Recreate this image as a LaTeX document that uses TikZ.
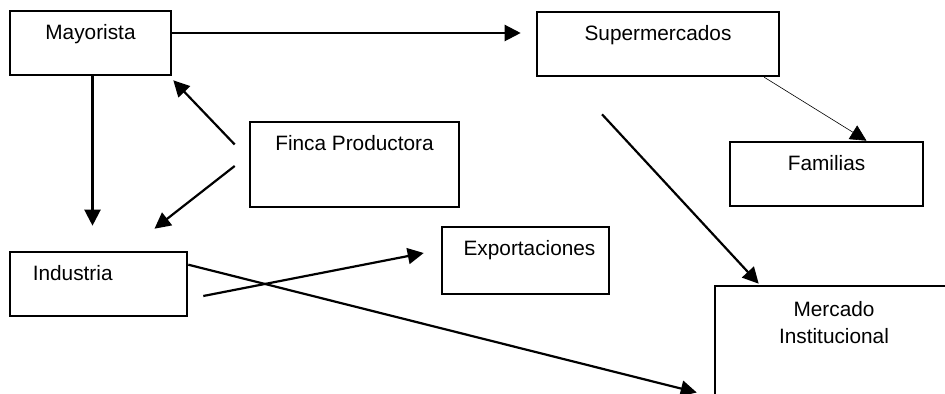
\documentclass[tikz,border=0pt]{standalone}
\usepackage{fontspec}
\setmainfont{Liberation Sans}
\usetikzlibrary{arrows.meta,calc}

\tikzset{
  caja/.style={draw, rectangle, line width=1.3pt, inner sep=0pt},
  rotulo/.style={anchor=base, yshift=-15pt, inner sep=0pt, font=\fontsize{10.4}{13.5}\selectfont},
}

\begin{document}
\begin{tikzpicture}[x=0.5pt, y=-0.5pt, line width=1.1pt, >={Triangle[length=8pt,width=8pt]}]
\useasboundingbox (0,0) rectangle (945,394);
\clip (0,0) rectangle (945,394);
% cajas
\node[caja, minimum width=80.5pt, minimum height=32pt, label={[rotulo]north:Mayorista}] (may) at (90.5,43) {};
\node[caja, minimum width=121pt, minimum height=32pt, label={[rotulo]north:Supermercados}] (sup) at (658,44) {};
\node[caja, minimum width=104.5pt, minimum height=42.5pt, label={[rotulo]north:Finca Productora}] (finca) at (354.5,164.5) {};
\node[caja, minimum width=96.5pt, minimum height=32pt, label={[rotulo]north:Familias}] (fam) at (826.5,174) {};
\node[caja, minimum width=88.5pt, minimum height=32pt, label={[rotulo, anchor=base west, xshift=11.5pt]north west:Industria}] (ind) at (98.5,284) {};
\node[caja, minimum width=83.5pt, minimum height=33.5pt, label={[rotulo, xshift=2pt]north:Exportaciones}] (exp) at (525.5,260.5) {};
\node[caja, minimum width=119pt, minimum height=77pt, label={[rotulo, yshift=-14.5pt, align=center]north:Mercado\\Institucional}] (merc) at (834,363) {};
% flechas
\draw[->] ([yshift=5pt]may.east) -- ([xshift=-7.5pt,yshift=5.5pt]sup.west);
\draw[->] ($(may.south)+(1pt,0)$) -- ($(may.south |- ind.north)+(1pt,12.5pt)$);
\draw[->] ([xshift=-7pt,yshift=10pt]finca.west) -- ([xshift=0.5pt,yshift=-2pt]may.south east);
\draw[->] ([xshift=-7pt,yshift=-0.75pt]finca.west) -- ([xshift=28pt,yshift=11pt]ind.north);
\draw[->, line width=0.3pt] ([xshift=-8pt]sup.south east) -- ([xshift=20pt]fam.north);
\draw[->] ([xshift=-28pt,yshift=-18.5pt]sup.south) -- ([xshift=22.5pt,yshift=0.5pt]merc.north west);
\draw[->] ([xshift=7.5pt,yshift=-6pt]ind.east) -- ([xshift=-8.5pt,yshift=3.75pt]exp.west);
\draw[->] ([yshift=-7pt]ind.north east) -- ([xshift=-8.5pt,yshift=-14.75pt]merc.west);
\end{tikzpicture}
\end{document}
